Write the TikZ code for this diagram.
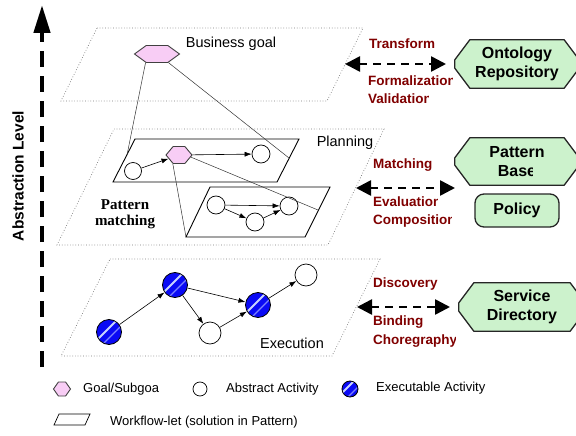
\documentclass[tikz,border=0pt]{standalone}
\usepackage{fontspec}
\setmainfont{Liberation Sans}
\newfontfamily\pmfont{Liberation Serif}
\usetikzlibrary{arrows.meta,shapes.symbols}

\newcommand\setfs[2]{\fontsize{#1}{#2}\selectfont}
% octagonal outline around a (frameless) store node
\newcommand\storeframe[1]{%
  \draw[storeline]
    ([xshift=15pt]#1.north west) -- ([xshift=-15pt]#1.north east) --
    ([yshift=-20pt]#1.north east) -- ([yshift=20pt]#1.south east) --
    ([xshift=-15pt]#1.south east) -- ([xshift=15pt]#1.south west) --
    ([yshift=20pt]#1.south west) -- ([yshift=-20pt]#1.north west) -- cycle;}

\definecolor{planeedge}{RGB}{120,120,120}
\definecolor{opred}{RGB}{128,0,0}
\definecolor{goalpink}{RGB}{248,205,245}
\definecolor{repogreen}{RGB}{204,242,204}
\definecolor{exeblue}{RGB}{10,10,245}
\definecolor{stripe}{RGB}{200,210,255}

\tikzset{
  plane/.style={draw=planeedge, dotted, line width=0.7pt},
  flowlet/.style={draw=black, line width=0.9pt},
  goalhex/.style={signal, signal to=west and east, draw=black!75, fill=goalpink,
    line width=0.9pt, inner sep=0pt},
  absact/.style={circle, draw=black, fill=white, line width=0.7pt, inner sep=0pt},
  exeact/.style={circle, draw=black, fill=exeblue, line width=0.8pt, inner sep=0pt,
    path picture={
      \draw[stripe, line width=1.8pt]
        ([xshift=-2pt,yshift=2pt]path picture bounding box.south west) --
        ([xshift=-2pt,yshift=2pt]path picture bounding box.north east);
      \draw[stripe!60!exeblue, line width=1.2pt]
        ([xshift=3pt,yshift=-3pt]path picture bounding box.south west) --
        ([xshift=3pt,yshift=-3pt]path picture bounding box.north east);
    }},
  flow/.style={-{Latex[length=7pt,width=5pt]}, line width=0.6pt},
  trace/.style={draw=black!80, line width=0.5pt},
  storebox/.style={rectangle, draw=none, inner sep=0pt},
  storeline/.style={draw=black!85, fill=repogreen, line width=1.3pt, line join=round},
  storetext/.style={font=\bfseries\setfs{16}{19}, align=center, inner sep=0pt},
  oplabel/.style={font=\bfseries\setfs{13.5}{16}, text=opred, anchor=west, inner sep=0pt},
  levellabel/.style={font=\setfs{14.5}{17}, inner sep=0pt},
  legendtext/.style={font=\setfs{13}{15}, anchor=west, inner sep=0pt},
  exchange/.style={{Triangle[length=15pt,width=15pt]}-{Triangle[length=15pt,width=15pt]},
    line width=2.6pt, dash pattern=on 8pt off 6pt},
  levelaxis/.style={-{Triangle[length=28pt,width=16pt]}, line width=4.5pt,
    dash pattern=on 16pt off 9pt},
}

\begin{document}
\begin{tikzpicture}[x=1pt, y=-1pt]
\useasboundingbox (0,0) rectangle (576,436);
\clip (0,0) rectangle (576,436);

% ---------- abstraction axis ----------
\coordinate (axis-bot) at (42,367);
\coordinate (axis-top) at (42,5);
\draw[levelaxis] (axis-bot) -- (axis-top);
\node[rotate=90, font=\bfseries\setfs{15.5}{18}, inner sep=0pt] (axislabel) at (18,176) {Abstraction Level};

% ---------- the three level planes ----------
\draw[plane] (97,28) -- (363,28) -- (327,101) -- (61,101) -- cycle;
\draw[plane] (114,129) -- (384,129) -- (328,245) -- (57,245) -- cycle;
\draw[plane] (110,259) -- (380,259) -- (332,356) -- (61,356) -- cycle;

\node[levellabel] (goal-lbl) at (231,44) {Business goal};
\node[levellabel] (plan-lbl) at (345,143) {Planning};
\node[levellabel] (exec-lbl) at (292,343) {Execution};

% ---------- business goal level ----------
\node[goalhex, minimum width=45pt, minimum height=17pt, signal pointer angle=72] (bg) at (157,54) {};

% ---------- planning level: two workflow-lets ----------
\coordinate (ua-tl) at (135,139); \coordinate (ua-tr) at (299,139);
\coordinate (ua-br) at (277,182); \coordinate (ua-bl) at (113,182);
\draw[flowlet] (ua-tl) -- (ua-tr) -- (ua-br) -- (ua-bl) -- cycle;

\coordinate (lb-tl) at (210,187); \coordinate (lb-tr) at (330,187);
\coordinate (lb-br) at (305,237); \coordinate (lb-bl) at (186,237);
\draw[flowlet] (lb-tl) -- (lb-tr) -- (lb-br) -- (lb-bl) -- cycle;

\coordinate (ua-l) at (127,155);
\coordinate (ua-r) at (289,158);
\coordinate (lb-r) at (318,210);

\node[absact, minimum size=17pt] (a0) at (133,171) {};
\node[goalhex, minimum width=26pt, minimum height=17pt, signal pointer angle=100] (sg) at (179,155) {};
\node[absact, minimum size=18pt] (a3) at (261,154) {};
\draw[flow] (a0) -- (sg);
\draw[flow] (sg) -- (a3);

\node[absact, minimum size=18pt] (b1) at (216,205) {};
\node[absact, minimum size=18pt] (b2) at (255,222) {};
\node[absact, minimum size=18pt] (b3) at (289,206) {};
\draw[flow] (b1) -- (b3);
\draw[flow] (b1) -- (b2);
\draw[flow] (b2) -- (b3);

% refinement traces between levels
\draw[trace] (bg.217) -- (ua-l);
\draw[trace] (bg.323) -- (ua-r);
\draw[trace] (sg.235) -- (lb-bl);
\draw[trace] (sg.-10) -- (lb-r);

\node[font=\pmfont\bfseries\setfs{15}{16.5}, align=center, inner sep=0pt] (pm-lbl) at (125,214) {Pattern\\matching};

% ---------- execution level ----------
\node[exeact, minimum size=25pt] (e1) at (109,332) {};
\node[exeact, minimum size=25pt] (e2) at (175,285) {};
\node[exeact, minimum size=25pt] (e3) at (258,305) {};
\node[absact, minimum size=22pt] (x1) at (210,333) {};
\node[absact, minimum size=22pt] (x2) at (306,275) {};
\draw[flow] (e1) -- (e2);
\draw[flow] (e2) -- (e3);
\draw[flow] (e2) -- (x1);
\draw[flow] (x1) -- (e3);
\draw[flow] (e3) -- (x2);

% ---------- knowledge stores ----------
\node[storebox, minimum width=124pt, minimum height=48pt] (onto) at (517,64) {};
\storeframe{onto}
\node[storetext] (onto-txt) at (onto.center) {Ontology\\Repository};

\node[storebox, minimum width=124pt, minimum height=47pt] (pbase) at (517,161.5) {};
\storeframe{pbase}
\begin{scope}
  \clip (440,130) rectangle (580,160.5) (440,160.5) rectangle (532,192);
  \node[storetext] (pbase-txt) at (pbase.center) {Pattern\\Base};
\end{scope}

\node[draw=black!85, fill=repogreen, line width=1.3pt, rounded corners=9pt,
  minimum width=84pt, minimum height=33pt, inner sep=0pt,
  font=\bfseries\setfs{16}{19}] (policy) at (517,210.5) {Policy};

\node[storebox, minimum width=126pt, minimum height=48pt] (sdir) at (522,307) {};
\storeframe{sdir}
\node[storetext] (sdir-txt) at (sdir.center) {Service\\Directory};

% ---------- exchanges between levels and stores ----------
\coordinate (x-top-l) at (345,64);   \coordinate (x-top-r) at (446,64);
\coordinate (x-mid-l) at (356,188);  \coordinate (x-mid-r) at (455,188);
\coordinate (x-bot-l) at (357,307);  \coordinate (x-bot-r) at (450,307);
\draw[exchange] (x-top-l) -- (x-top-r);
\draw[exchange] (x-mid-l) -- (x-mid-r);
\draw[exchange] (x-bot-l) -- (x-bot-r);

\node[oplabel] (op-transform) at (369,44) {Transform};
\begin{scope}\clip (360,70) rectangle (452,92);
  \node[oplabel] (op-formal) at (368,81) {Formalization};\end{scope}
\begin{scope}\clip (360,90) rectangle (428.5,110);
  \node[oplabel] (op-valid) at (368,99) {Validation};\end{scope}

\node[oplabel] (op-match) at (373,165) {Matching};
\begin{scope}\clip (365,191) rectangle (437,212);
  \node[oplabel] (op-eval) at (373,202) {Evaluation};\end{scope}
\begin{scope}\clip (365,212) rectangle (451.5,232);
  \node[oplabel] (op-comp) at (373,221) {Composition};\end{scope}

\node[oplabel] (op-disc) at (373,284) {Discovery};
\node[oplabel] (op-bind) at (373,322) {Binding};
\begin{scope}\clip (365,331) rectangle (455,352);
  \node[oplabel] (op-chor) at (373,341) {Choregraphy};\end{scope}

% ---------- legend ----------
\node[goalhex, minimum width=17pt, minimum height=14pt, signal pointer angle=110] (lg-goal) at (62,389) {};
\node[legendtext] (lg-goal-txt) at (83,389) {Goal/Subgoa};
\node[absact, minimum size=14pt] (lg-abs) at (200,389) {};
\node[legendtext] (lg-abs-txt) at (226,389) {Abstract Activity};
\node[exeact, minimum size=16pt] (lg-exe) at (350,389) {};
\node[legendtext] (lg-exe-txt) at (376,388) {Executable Activity};
\coordinate (lg-w1) at (59,414); \coordinate (lg-w2) at (90,414);
\coordinate (lg-w3) at (85,425); \coordinate (lg-w4) at (54,425);
\draw[flowlet, line width=0.7pt] (lg-w1) -- (lg-w2) -- (lg-w3) -- (lg-w4) -- cycle;
\node[legendtext] (lg-wf-txt) at (110,422) {Workflow-let (solution in Pattern)};
\end{tikzpicture}
\end{document}
